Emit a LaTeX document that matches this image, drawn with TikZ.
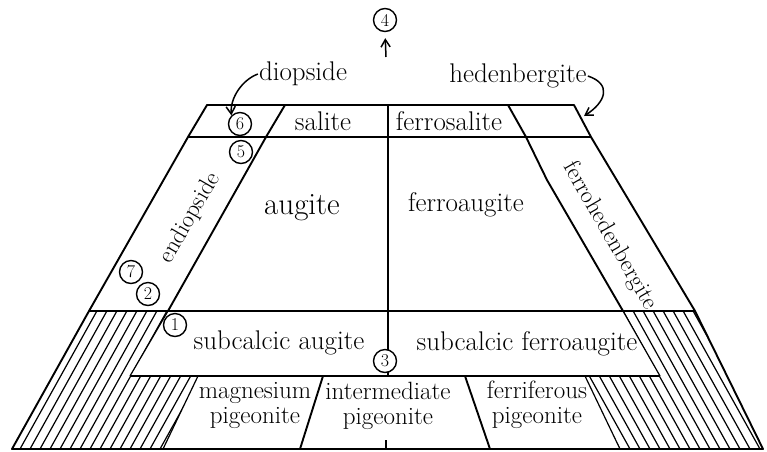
\documentclass[tikz,border=0pt]{standalone}
\usepackage{tikz}
\usetikzlibrary{arrows.meta,positioning,calc}

\begin{document}
\begin{tikzpicture}[
    x=1pt,y=-1pt,
    wall/.style={line width=1.9pt, line join=round},
    hatchline/.style={line width=1.2pt},
    field/.style={font=\fontsize{27}{27}\selectfont, inner sep=1pt},
    bigfield/.style={field, font=\fontsize{31}{31}\selectfont},
    slantfield/.style={field, font=\fontsize{24}{24}\selectfont},
    twoline/.style={field, align=center, font=\fontsize{25}{25}\selectfont},
    tag/.style={draw, circle, fill=white, line width=1.4pt, inner sep=0pt, minimum size=23pt, font=\fontsize{18}{18}\selectfont},
    pointer/.style={-{Straight Barb[length=2.6mm,width=3.2mm]}, line width=1.5pt}
  ]
    \useasboundingbox (0,0) rectangle (767,451);

    % hatched fields
    \begin{scope}
      \clip (89,311) -- (168,311) -- (130,376) -- (198,376) -- (163,449) -- (12,449) -- cycle;
      \foreach \x in {-90,-80,...,210}{\draw[hatchline] (\x,449) -- ++(78,-140);}
    \end{scope}
    \begin{scope}
      \clip (623,311) -- (695,311) -- (763,449) -- (620,449) -- (585,376) -- (660,376) -- cycle;
      \foreach \x in {600,610,...,870}{\draw[hatchline] (\x,449) -- ++(-78,-140);}
    \end{scope}

    % outline and rows
    \draw[wall] (207,105) -- (574,105) -- (591,137) -- (695,311) -- (763,449) -- (12,449) -- (89,311) -- (188,137) -- cycle;
    \draw[wall] (188,137) -- (591,137);
    \draw[wall] (89,311) -- (695,311);
    \draw[wall] (285,105) -- (266,137) -- (168,311);
    \draw[wall] (508,105) -- (526,137) -- (547,180) -- (623,311);
    \draw[hatchline] (168,311) -- (130,376);
    \draw[hatchline] (623,311) -- (660,376);
    \draw[wall] (130,376) -- (660,376);
    \draw[wall] (388,105) -- (388,376);
    \draw[hatchline] (198,376) -- (163,449);
    \draw[wall] (323,376) -- (300,449);
    \draw[wall] (465,376) -- (490,449);
    \draw[hatchline] (585,376) -- (620,449);
    \draw[wall] (386,440) -- (386,449);

    % field names
    \node[field] (salite) at (323,121) {salite};
    \node[field] (fsalite) at (449,121) {ferrosalite};
    \node[bigfield] (augite) at (302,208) {augite};
    \node[field] (faugite) at (466,205) {ferroaugite};
    \node[slantfield, rotate=60] (endi) at (190,218) {endiopside};
    \node[slantfield, rotate=-60] (fheden) at (610,236) {ferrohedenbergite};
    \node[field] (subaug) at (279,343) {subcalcic augite};
    \node[field] (subfaug) at (527,344) {subcalcic ferroaugite};
    \node[twoline] (mgpig) at (255,405) {magnesium\\pigeonite};
    \node[twoline] (inpig) at (388,406) {intermediate\\pigeonite};
    \node[twoline] (fepig) at (537,405) {ferriferous\\pigeonite};

    % numbered points
    \node[tag] (n6) at (240,124) {6};
    \node[tag] (n5) at (241,152) {5};
    \node[tag] (n7) at (131,272) {7};
    \node[tag] (n2) at (148,294) {2};
    \node[tag] (n1) at (175,325) {1};
    \node[tag] (n3) at (385,361) {3};
    \node[tag] (n4) at (385,20) {4};

    % end members
    \node[field] (dio) at (303,74) {diopside};
    \node[field] (heden) at (518,76) {hedenbergite};
    \coordinate (hcorner) at (584,116);
    \coordinate (up) at (386,57);

    \draw[pointer] (dio.west) .. controls (242,80) and (230,98) .. (n6.north west);
    \draw[pointer] (heden.east) .. controls (612,84) and (606,102) .. (hcorner);
    \draw[pointer, shorten >=6pt] (up) -- (n4.south);
  \end{tikzpicture}
\end{document}
